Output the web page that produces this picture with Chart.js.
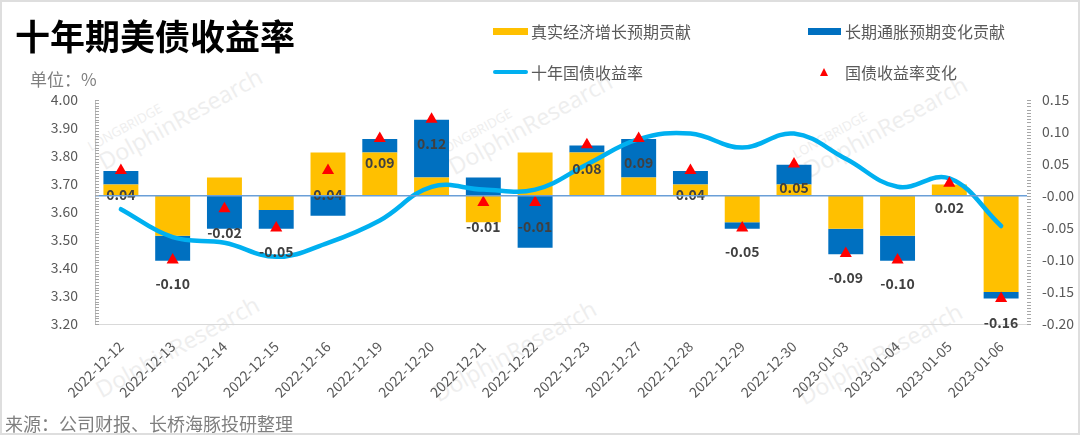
<!DOCTYPE html>
<html>
<head>
<meta charset="utf-8">
<script src="https://cdn.jsdelivr.net/npm/chart.js@4.4.0/dist/chart.umd.min.js"></script>
<style>
body { margin: 0; background: #fff; }
#wrap { position: relative; width: 1080px; height: 435px; overflow: hidden; background: #fff;
  font-family: 'Noto Sans CJK SC', 'Noto Sans', sans-serif; }
#c { position: absolute; left: 0; top: 0; }
.txt { position: absolute; white-space: nowrap; line-height: 1; }
.wm { position: absolute; white-space: nowrap; color: #eeeeee; font-family: 'Open Sans', sans-serif;
  transform-origin: left bottom; transform: rotate(-29deg); line-height: 1; }
.frame { position: absolute; left: 0; top: 0; width: 1076px; height: 431px; border: 2px solid #dedede; pointer-events: none; }
</style>
</head>
<body>
<div id="wrap">
  <div class="wm" style="left:92px;top:140px;font-size:13px;">LONGBRIDGE</div>
  <div class="wm" style="left:106px;top:150px;font-size:23px;">DolphinResearch</div>
  <div class="wm" style="left:442px;top:145px;font-size:13px;">LONGBRIDGE</div>
  <div class="wm" style="left:456px;top:155px;font-size:23px;">DolphinResearch</div>
  <div class="wm" style="left:797px;top:148px;font-size:13px;">LONGBRIDGE</div>
  <div class="wm" style="left:811px;top:158px;font-size:23px;">DolphinResearch</div>
  <div class="wm" style="left:103px;top:378px;font-size:23px;">DolphinResearch</div>
  <div class="wm" style="left:440px;top:382px;font-size:23px;">DolphinResearch</div>
  <div class="wm" style="left:806px;top:385px;font-size:23px;">DolphinResearch</div>

  <canvas id="c" width="1080" height="435"></canvas>

  <div class="txt" style="left:15px;top:17px;font-size:35px;font-weight:bold;color:#000;">十年期美债收益率</div>
  <div class="txt" style="left:30px;top:70px;font-size:17px;color:#7f7f7f;">单位：%</div>

  <div style="position:absolute;left:493px;top:28px;width:35px;height:7px;background:#FFC000;"></div>
  <div class="txt" style="left:531px;top:23px;font-size:16px;color:#595959;">真实经济增长预期贡献</div>
  <div style="position:absolute;left:808px;top:28px;width:33px;height:7px;background:#0070C0;"></div>
  <div class="txt" style="left:845px;top:23px;font-size:16px;color:#595959;">长期通胀预期变化贡献</div>
  <div style="position:absolute;left:493px;top:70px;width:35px;height:4px;border-radius:2px;background:#00B0F0;"></div>
  <div class="txt" style="left:531px;top:64px;font-size:16px;color:#595959;">十年国债收益率</div>
  <div style="position:absolute;left:820px;top:68px;width:0;height:0;border-left:4px solid transparent;border-right:4px solid transparent;border-bottom:8px solid #FF0000;"></div>
  <div class="txt" style="left:845px;top:64px;font-size:16px;color:#595959;">国债收益率变化</div>

  <div class="txt" style="left:5px;top:414px;font-size:18px;color:#7f7f7f;">来源：公司财报、长桥海豚投研整理</div>
  <div class="frame"></div>
</div>
<script>
// 日期
const categories = ['2022-12-12', '2022-12-13', '2022-12-14', '2022-12-15', '2022-12-16', '2022-12-19',
    '2022-12-20', '2022-12-21', '2022-12-22', '2022-12-23', '2022-12-27', '2022-12-28',
    '2022-12-29', '2022-12-30', '2023-01-03', '2023-01-04', '2023-01-05', '2023-01-06'];
// 真实经济增长预期贡献 (右轴)
const realGrowth = [0.018, -0.062, 0.029, -0.022, 0.068, 0.068, 0.029, -0.041, 0.068,
    0.068, 0.029, 0.018, -0.041, 0.018, -0.051, -0.062, 0.018, -0.150];
// 长期通胀预期变化贡献 (右轴)
const inflation = [0.021, -0.039, -0.051, -0.029, -0.031, 0.021, 0.090, 0.029, -0.081,
    0.011, 0.060, 0.021, -0.010, 0.031, -0.040, -0.039, 0.000, -0.010];
// 十年国债收益率 (左轴)
const yield10y = [3.61, 3.51, 3.49, 3.44, 3.49, 3.57, 3.69, 3.68, 3.68,
    3.77, 3.86, 3.88, 3.83, 3.88, 3.79, 3.69, 3.72, 3.55];
// 国债收益率变化 (右轴)
const yieldChange = [0.04, -0.10, -0.02, -0.05, 0.04, 0.09, 0.12, -0.01, -0.01,
    0.08, 0.09, 0.04, -0.05, 0.05, -0.09, -0.10, 0.02, -0.16];

const leftMin = 3.2, leftMax = 4.0, leftStep = 0.1;
const rightMin = -0.2, rightMax = 0.15, rightStep = 0.05;

Chart.defaults.font.family = "'Noto Sans CJK SC', 'Noto Sans', sans-serif";
Chart.defaults.color = '#595959';

// 小刻度
const minorTicks = {
    id: 'minorTicks',
    afterDraw(chart) {
        const ctx = chart.ctx, a = chart.chartArea;
        const yL = chart.scales.yL, yR = chart.scales.yR;
        ctx.save();
        ctx.strokeStyle = '#a6a6a6';
        ctx.lineWidth = 1;
        ctx.beginPath();
        for (let k = Math.round(yL.min * 100); k <= Math.round(yL.max * 100); k++) {
            const y = Math.round(yL.getPixelForValue(k / 100)) + 0.5;
            ctx.moveTo(a.left, y); ctx.lineTo(a.left + 4, y);
        }
        for (let k = Math.round(yR.min * 200); k <= Math.round(yR.max * 200); k++) {
            const y = Math.round(yR.getPixelForValue(k / 200)) + 0.5;
            ctx.moveTo(a.right, y); ctx.lineTo(a.right + 4, y);
        }
        ctx.stroke();
        ctx.restore();
    }
};

// 三角形下方的数值标签
const changeLabels = {
    id: 'changeLabels',
    afterDatasetsDraw(chart) {
        const ctx = chart.ctx;
        const meta = chart.getDatasetMeta(3);
        ctx.save();
        ctx.font = "bold 14px 'Noto Sans CJK SC', sans-serif";
        ctx.fillStyle = '#404040';
        ctx.textAlign = 'center';
        ctx.textBaseline = 'middle';
        meta.data.forEach((pt, i) => {
            ctx.fillText(yieldChange[i].toFixed(2), pt.x, pt.y + 24);
        });
        ctx.restore();
    }
};

new Chart(document.getElementById('c'), {
    data: {
        labels: categories,
        datasets: [{
            type: 'bar',
            label: '真实经济增长预期贡献',
            data: realGrowth,
            backgroundColor: '#FFC000',
            yAxisID: 'yR',
            stack: 'bars',
            barPercentage: 0.675,
            categoryPercentage: 1,
            order: 3
        }, {
            type: 'bar',
            label: '长期通胀预期变化贡献',
            data: inflation,
            backgroundColor: '#0070C0',
            yAxisID: 'yR',
            stack: 'bars',
            barPercentage: 0.675,
            categoryPercentage: 1,
            order: 3
        }, {
            type: 'line',
            label: '十年国债收益率',
            data: yield10y,
            borderColor: '#00B0F0',
            borderWidth: 4.5,
            borderCapStyle: 'round',
            pointRadius: 0,
            tension: 0.4,
            yAxisID: 'yL',
            order: 2
        }, {
            type: 'line',
            label: '国债收益率变化',
            data: yieldChange,
            showLine: false,
            pointStyle: 'triangle',
            pointRadius: 7,
            pointBackgroundColor: '#FF0000',
            pointBorderColor: '#FF0000',
            pointBorderWidth: 0,
            yAxisID: 'yR',
            stack: 'tri',
            order: 1
        }]
    },
    options: {
        responsive: false,
        animation: false,
        layout: { padding: { top: 100, left: 0, right: 0, bottom: 0 } },
        plugins: { legend: { display: false }, tooltip: { enabled: false } },
        scales: {
            x: {
                stacked: true,
                grid: { display: false },
                border: { display: true, color: '#d9d9d9' },
                ticks: { autoSkip: false, maxRotation: 45, minRotation: 45, padding: 6, font: { size: 14 }, color: '#595959' },
                afterFit(s) { s.height = 111; }
            },
            yL: {
                position: 'left',
                min: leftMin, max: leftMax,
                grid: { display: true, drawOnChartArea: false, drawTicks: false },
                border: { display: true, color: '#bfbfbf' },
                ticks: { stepSize: leftStep, padding: 17, font: { size: 14 }, color: '#595959',
                    callback: v => Number(v).toFixed(2) },
                afterFit(s) { s.width = 95; }
            },
            yR: {
                position: 'right',
                stacked: true,
                min: rightMin, max: rightMax,
                grid: {
                    drawTicks: false, z: 1, lineWidth: 1.5,
                    color: c => (c.tick && Math.abs(c.tick.value) < 1e-9) ? '#6a9fd8' : 'rgba(0,0,0,0)'
                },
                border: { display: true, color: '#bfbfbf' },
                ticks: { stepSize: rightStep, padding: 15, font: { size: 14 }, color: '#595959',
                    callback: v => Number(v).toFixed(2) },
                afterFit(s) { s.width = 53; }
            }
        }
    },
    plugins: [minorTicks, changeLabels]
});
</script>
</body>
</html>
